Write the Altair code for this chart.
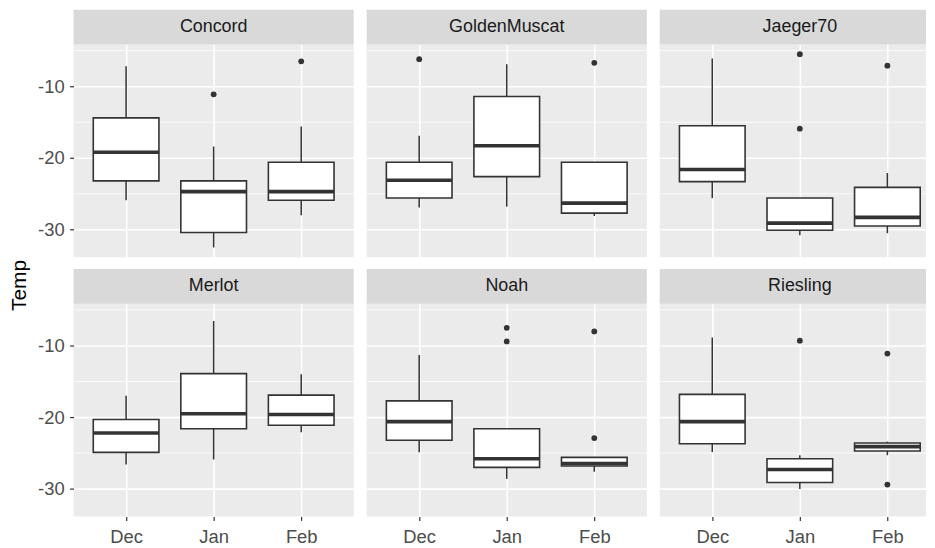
import altair as alt
import pandas as pd

# ---------------- data ----------------
grapes = ["Concord", "GoldenMuscat", "Jaeger70", "Merlot", "Noah", "Riesling"]
months = ["Dec", "Jan", "Feb"]

# five-number summaries, grape-major, months Dec/Jan/Feb
whisker_low = [-25.9, -32.5, -28.0,
               -26.9, -26.8, -28.1,
               -25.6, -30.8, -30.5,
               -26.6, -25.9, -22.1,
               -24.9, -28.6, -27.6,
               -24.85, -30.0, -25.3]
box_q1 = [-23.2, -30.4, -25.9,
          -25.6, -22.6, -27.7,
          -23.3, -30.1, -29.5,
          -24.9, -21.6, -21.1,
          -23.2, -27.0, -26.8,
          -23.7, -29.1, -24.7]
box_median = [-19.2, -24.7, -24.7,
              -23.1, -18.3, -26.3,
              -21.6, -29.1, -28.3,
              -22.2, -19.5, -19.6,
              -20.6, -25.8, -26.45,
              -20.6, -27.3, -24.1]
box_q3 = [-14.4, -23.2, -20.6,
          -20.6, -11.4, -20.6,
          -15.5, -25.6, -24.1,
          -20.3, -13.9, -16.9,
          -17.7, -21.6, -25.6,
          -16.8, -25.8, -23.6]
whisker_high = [-7.2, -18.4, -15.6,
                -16.9, -6.9, -20.6,
                -6.1, -25.6, -22.1,
                -17.0, -6.55, -14.0,
                -11.3, -21.6, -25.6,
                -8.85, -25.3, -23.4]

outlier_grape = ["Concord", "Concord",
                 "GoldenMuscat", "GoldenMuscat",
                 "Jaeger70", "Jaeger70", "Jaeger70",
                 "Noah", "Noah", "Noah", "Noah",
                 "Riesling", "Riesling", "Riesling"]
outlier_month = ["Jan", "Feb",
                 "Dec", "Feb",
                 "Jan", "Jan", "Feb",
                 "Jan", "Jan", "Feb", "Feb",
                 "Jan", "Feb", "Feb"]
outlier_temp = [-11.1, -6.5,
                -6.2, -6.7,
                -5.5, -15.9, -7.1,
                -7.5, -9.4, -8.0, -22.9,
                -9.3, -11.1, -29.4]

y_breaks = [-30, -20, -10]
y_minor = [-25, -15, -5]
y_limits = [-33.85, -4.15]
y_title = "Temp"

# ---------------- tables ----------------
BOX_HALF = 0.375                      # box width 0.75 of a category step
month_pos = {m: i + 1 for i, m in enumerate(months)}

stats = pd.DataFrame({
    "grape": [g for g in grapes for _ in months],
    "month": [m for _ in grapes for m in months],
    "lower": whisker_low, "q1": box_q1, "median": box_median,
    "q3": box_q3, "upper": whisker_high,
})
stats["pos"] = stats["month"].map(month_pos)
stats["lo"] = stats["pos"] - BOX_HALF
stats["hi"] = stats["pos"] + BOX_HALF

outliers = pd.DataFrame({"grape": outlier_grape, "month": outlier_month,
                         "temp": outlier_temp})
outliers["pos"] = outliers["month"].map(month_pos)
minor_df = pd.DataFrame({"v": y_minor})

# ---------------- style ----------------
PW_FULL, PH, STRIP = 282, 214, 35
COL_W = [282, 282, 268]          # the right column is cut by the picture edge
INK = "#333333"
FONT = "Liberation Sans"
HYPHEN = "replace(datum.label, '\u2212', '-')"
MONTH_LABEL = "[" + ",".join(f"'{m}'" for m in months) + "][datum.value - 1]"
X_LO = 0.4                        # discrete-scale expansion of 0.6 step each side
X_SPAN = len(months) + 0.2


def panel(g, col, show_x, with_title=False):
    show_y = col == 0
    w = COL_W[col]
    s = stats[stats.grape == g]
    o = outliers[outliers.grape == g]
    xs = alt.Scale(domain=[X_LO, X_LO + X_SPAN * w / PW_FULL], nice=False, zero=False)
    ys = alt.Scale(domain=y_limits, nice=False, zero=False)
    xvals = list(month_pos.values())
    if show_x:
        xax = alt.Axis(title=None, values=xvals, labelExpr=MONTH_LABEL, labelAngle=0,
                       domain=False, grid=True, tickSize=4, labelPadding=7,
                       labelFlush=False, labelOverlap=False)
    else:
        xax = alt.Axis(title=None, values=xvals, labels=False, ticks=False,
                       domain=False, grid=True, tickSize=0, labelPadding=0,
                       minExtent=0, offset=0)
    common = dict(values=y_breaks, domain=False, grid=True, labelExpr=HYPHEN)
    if with_title:
        yax = alt.Axis(title=y_title, labels=True, ticks=True,
                       titleX=-48, titleY=-19,
                       titleAngle=270, titleAlign="center", titleBaseline="alphabetic",
                       titleFont=FONT, titleFontSize=21, titleFontWeight="normal",
                       titleColor="black", **common)
    elif show_y:
        yax = alt.Axis(title=None, labels=True, ticks=True, **common)
    else:
        yax = alt.Axis(title=None, labels=False, ticks=False, tickSize=0,
                       labelPadding=0, minExtent=0, **common)

    def X(f):
        return alt.X(f"{f}:Q", scale=xs, axis=xax)

    def Y(f):
        return alt.Y(f"{f}:Q", scale=ys, axis=yax)

    minor = alt.Chart(minor_df).mark_rule(color="white", strokeWidth=0.8).encode(y=Y("v"))
    sdf = pd.DataFrame({"grape": [g]})
    strip = alt.Chart(sdf).mark_rect(color="#D9D9D9").encode(
        x=alt.value(0), x2=alt.value(w), y=alt.value(-STRIP), y2=alt.value(0))
    strip_txt = alt.Chart(sdf).mark_text(font=FONT, fontSize=18, color="#1A1A1A",
                                         baseline="middle", align="center").encode(
        text="grape:N", x=alt.value(PW_FULL / 2), y=alt.value(-STRIP / 2))
    base = alt.Chart(s)
    wl = base.mark_rule(color=INK, strokeWidth=1.5).encode(x=X("pos"), y=Y("lower"), y2="q1:Q")
    wh = base.mark_rule(color=INK, strokeWidth=1.5).encode(x=X("pos"), y=Y("q3"), y2="upper:Q")
    box = base.mark_bar(fill="white", stroke=INK, strokeWidth=1.6).encode(
        x=X("lo"), x2="hi:Q", y=Y("q1"), y2="q3:Q")
    med = base.mark_rule(color=INK, strokeWidth=3.6).encode(
        x=X("lo"), x2="hi:Q", y=Y("median"))
    pts = alt.Chart(o).mark_circle(color=INK, size=34, opacity=1).encode(
        x=X("pos"), y=Y("temp"))
    return alt.layer(minor, strip, strip_txt, wl, wh, box, med, pts).properties(
        width=w, height=PH)


row1 = alt.hconcat(*[panel(g, i, False) for i, g in enumerate(grapes[:3])], spacing=11)
row2 = alt.hconcat(*[panel(g, i, True, with_title=(i == 0))
                     for i, g in enumerate(grapes[3:])], spacing=11)

chart = alt.vconcat(row1, row2, spacing=2).properties(
    padding={"left": 1, "top": 0, "right": 0, "bottom": 0},
    background="white",
).configure_view(strokeOpacity=0, strokeWidth=0, fill="#EBEBEB").configure_axis(
    gridColor="white", gridWidth=1.6, gridOpacity=1,
    tickColor=INK, tickSize=4, tickWidth=1.2,
    labelColor="#4D4D4D", labelFont=FONT, labelFontSize=18.5, labelPadding=5.5,
)

chart.save("out.html", embed_options={"renderer": "svg", "actions": False})
